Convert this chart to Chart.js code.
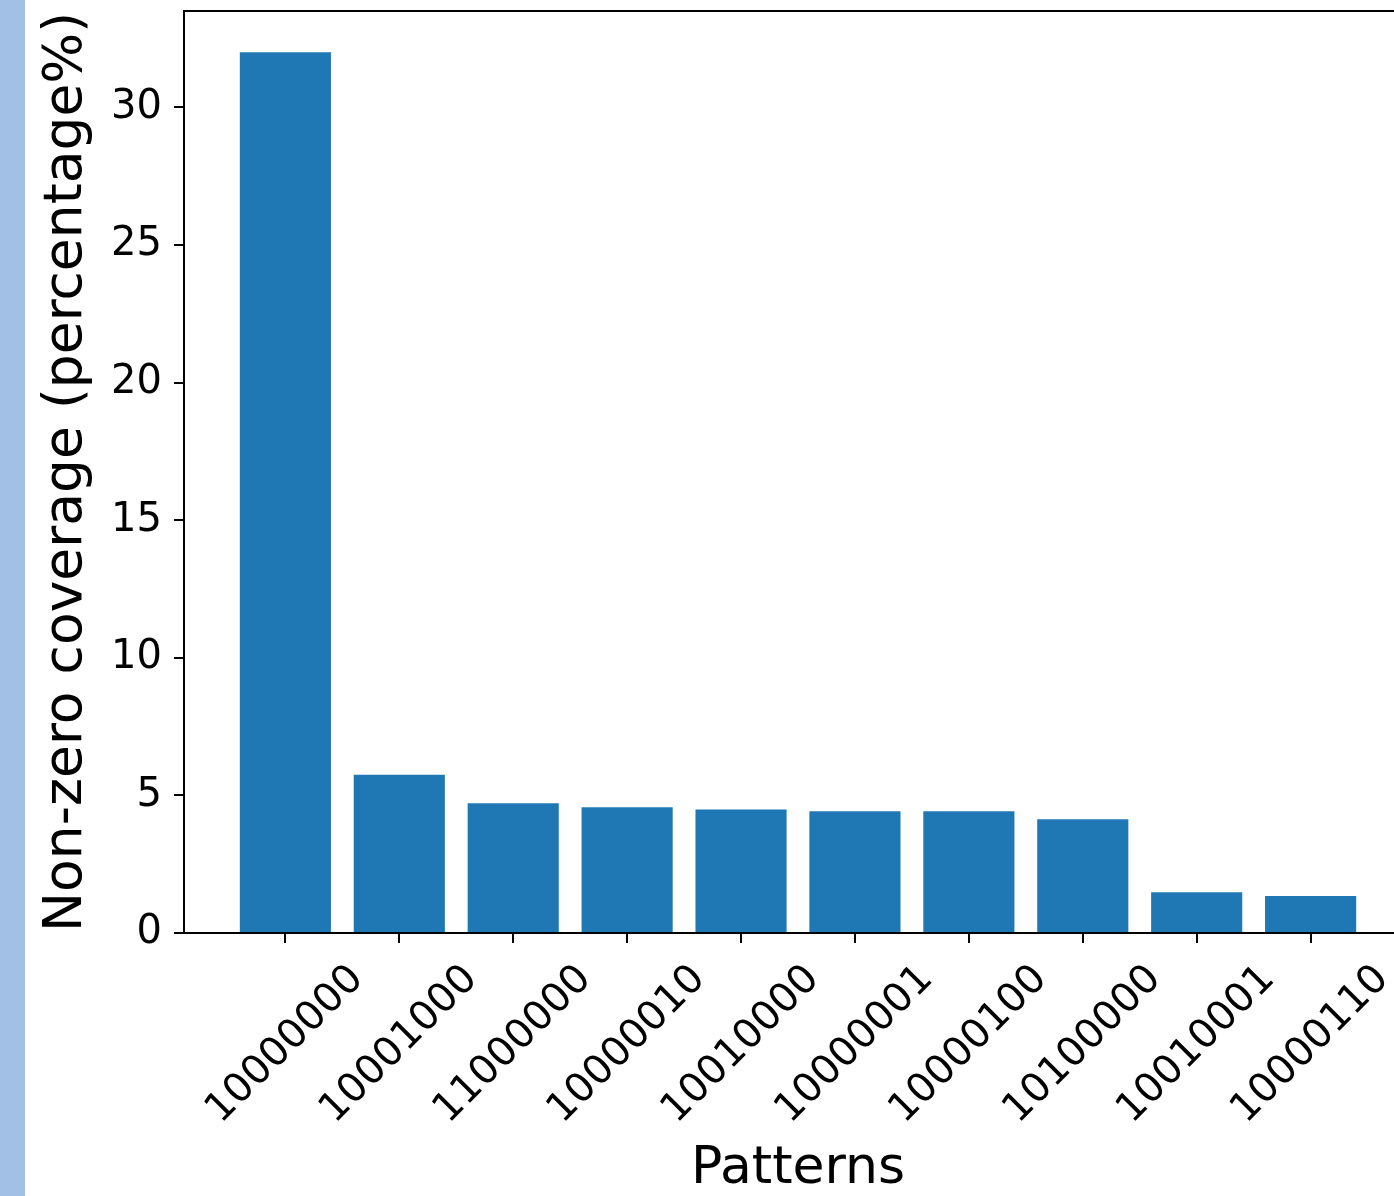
<!DOCTYPE html>
<html>
<head>
<meta charset="utf-8">
<script src="https://cdn.jsdelivr.net/npm/chart.js@4.4.1/dist/chart.umd.min.js"></script>
<style>
  html, body { margin: 0; padding: 0; background: #fff; overflow: hidden; width: 1394px; height: 1196px; }
  #strip { position: absolute; left: 0; top: 0; width: 25px; height: 1196px; background: #a2c0e6; }
  #wrap { position: absolute; left: 0; top: 0; width: 1412px; height: 1196px; }
</style>
</head>
<body>
<div id="strip"></div>
<div id="wrap"><canvas id="barChart" width="1412" height="1196"></canvas></div>
<script>
// values
const patterns = ["10000000", "10001000", "11000000", "10000010", "10010000",
                  "10000001", "10000100", "10100000", "10010001", "10000110"];
const coverage = [32.0, 5.75, 4.71, 4.57, 4.49, 4.42, 4.42, 4.13, 1.48, 1.34];
const xTitle = "Patterns";
const yTitle = "Non-zero coverage (percentage%)";

const font = "'DejaVu Sans', sans-serif";

// box around the plot area like matplotlib spines
const frame = {
  id: "frame",
  afterDraw(chart) {
    const { ctx, chartArea } = chart;
    ctx.save();
    ctx.strokeStyle = "#000";
    ctx.lineWidth = 2;
    ctx.strokeRect(chartArea.left, chartArea.top, chartArea.right - chartArea.left, chartArea.bottom - chartArea.top);
    ctx.restore();
  }
};

var ctx = document.getElementById("barChart").getContext("2d");
var chart = new Chart(ctx, {
  type: "bar",
  data: {
    datasets: [
      {
        data: coverage.map((v, i) => ({ x: i, y: v })),
        backgroundColor: "#1f77b4",
        borderWidth: 0,
        barPercentage: 0.8,
        categoryPercentage: 1.0
      }
    ]
  },
  options: {
    responsive: false,
    animation: false,
    layout: { padding: { top: 11, left: 0, right: 0, bottom: 0 }, autoPadding: false },
    plugins: { legend: { display: false }, tooltip: { enabled: false } },
    scales: {
      x: {
        type: "linear",
        min: -0.89,
        max: 9.89,
        offset: false,
        afterFit: s => { s.height = 263; s.paddingLeft = 0; s.paddingRight = 0; },
        grid: { display: true, offset: false, drawOnChartArea: false, drawTicks: true, tickLength: 10, tickWidth: 2, tickColor: "#000", lineWidth: 2 },
        border: { display: true, color: "#000", width: 2 },
        ticks: {
          stepSize: 1,
          includeBounds: false,
          autoSkip: false,
          minRotation: 45,
          maxRotation: 45,
          labelOffset: 72,
          padding: 13,
          color: "#000",
          font: { family: font, size: 40 },
          callback: v => patterns[v]
        },
        title: {
          display: true,
          text: xTitle,
          color: "#000",
          font: { family: font, size: 52, lineHeight: 1 },
          padding: { top: 0, bottom: 1 }
        }
      },
      y: {
        min: 0,
        max: 33.5,
        afterFit: s => { s.width = 184; s.paddingTop = 0; s.paddingBottom = 0; },
        grid: { display: true, drawOnChartArea: false, drawTicks: true, tickLength: 10, tickWidth: 2, tickColor: "#000", lineWidth: 2 },
        border: { display: true, color: "#000", width: 2 },
        ticks: {
          stepSize: 5,
          includeBounds: false,
          padding: 12,
          color: "#000",
          font: { family: font, size: 40 }
        },
        title: {
          display: true,
          text: yTitle,
          color: "#000",
          font: { family: font, size: 53.5, lineHeight: 1 },
          padding: { top: 40, bottom: 0 }
        }
      }
    }
  },
  plugins: [frame]
});
</script>
</body>
</html>
